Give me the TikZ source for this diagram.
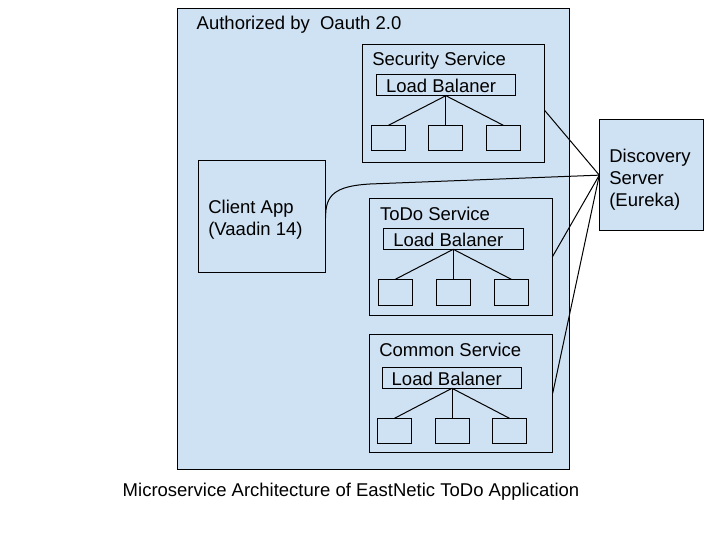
\documentclass[tikz,border=0pt]{standalone}
\usepackage{fontspec}
\setmainfont{Liberation Sans}
\begin{document}
\begin{tikzpicture}[x=1pt,y=-1pt,
  every node/.style={font=\fontsize{18.5}{22.2}\selectfont},
  box/.style={draw=black,line width=1pt,inner sep=0pt,outer sep=0pt},
  bluebox/.style={box,fill=boxblue},
  lbbox/.style={box,minimum width=139.5pt,minimum height=21pt},
  inst/.style={box,minimum width=34pt,minimum height=25.7pt},
  txt/.style={anchor=base west,inner sep=0pt,outer sep=0pt},
  link/.style={draw=black,line width=1pt}
]
\definecolor{boxblue}{HTML}{CFE2F3}
\useasboundingbox (0,0) rectangle (720,540);
\fill[white] (0,0) rectangle (720,540);
% outer
\node[bluebox,minimum width=392.2pt,minimum height=460.7pt] (outer) at (373.4,238.65) {};
\node[txt] (auth) at (196.7,29.3) {Authorized by\ \ Oauth 2.0};
% security
\node[box,minimum width=181.6pt,minimum height=118pt] (sec) at (453.5,103.3) {};
\node[txt] (sect) at (372.3,66) {Security Service};
\node[lbbox,minimum width=138.3pt] (seclb) at (445.85,85.2) {};
\node[txt] (seclbt) at (386,92.3) {Load Balaner};
\node[inst] (sec1) at (388.5,138.15) {};
\node[inst] (sec2) at (445.85,138.15) {};
\node[inst] (sec3) at (503.3,138.15) {};
\draw[link] (seclb.south) -- (sec1.north);
\draw[link] (seclb.south) -- (sec2.north);
\draw[link] (seclb.south) -- (sec3.north);
% client
\node[box,minimum width=127.4pt,minimum height=111.6pt] (client) at (262,216.5) {};
\node[txt] (clienta) at (208.3,213.3) {Client App};
\node[txt] (clientb) at (208.3,235.5) {(Vaadin 14)};
% todo
\node[box,minimum width=183pt,minimum height=117.4pt] (todo) at (460.8,257) {};
\node[txt] (todot) at (380,220.7) {ToDo Service};
\node[lbbox,minimum width=140pt] (todolb) at (453.3,238.8) {};
\node[txt] (todolbt) at (393.3,246.7) {Load Balaner};
\node[inst,minimum height=26.4pt] (todo1) at (395.3,292.5) {};
\node[inst,minimum height=26.4pt] (todo2) at (453.3,292.5) {};
\node[inst,minimum height=26.4pt] (todo3) at (511.3,292.5) {};
\draw[link] (todolb.south) -- (todo1.north);
\draw[link] (todolb.south) -- (todo2.north);
\draw[link] (todolb.south) -- (todo3.north);
% common
\node[box,minimum width=183.4pt,minimum height=118pt] (common) at (461,393.3) {};
\node[txt] (commont) at (379.3,356.7) {Common Service};
\node[lbbox,minimum width=139.4pt] (commonlb) at (452,377.8) {};
\node[txt] (commonlbt) at (391.7,385) {Load Balaner};
\node[inst,minimum height=25pt] (common1) at (394.5,430.8) {};
\node[inst,minimum height=25pt] (common2) at (452,430.8) {};
\node[inst,minimum height=25pt] (common3) at (509.5,430.8) {};
\draw[link] (commonlb.south) -- (common1.north);
\draw[link] (commonlb.south) -- (common2.north);
\draw[link] (commonlb.south) -- (common3.north);
% discovery
\node[bluebox,minimum width=104.4pt,minimum height=111.7pt] (disc) at (651.5,175.15) {};
\node[txt] (disca) at (609.3,162.7) {Discovery};
\node[txt] (discb) at (609.3,184.7) {Server};
\node[txt] (discc) at (609.3,206.7) {(Eureka)};
% connectors
\draw[link] ([yshift=-6.7pt]sec.east) -- (disc.west);
\draw[link] (todo.east) -- (disc.west);
\draw[link] (common.east) -- (disc.west);
\draw[link] ([yshift=-1.5pt]client.east) .. controls (325,195) and (335,186) .. (370,184) -- (disc.west);
% caption
\node[anchor=base,inner sep=0pt] (caption) at (351,496) {Microservice Architecture of EastNetic ToDo Application};
\end{tikzpicture}
\end{document}
